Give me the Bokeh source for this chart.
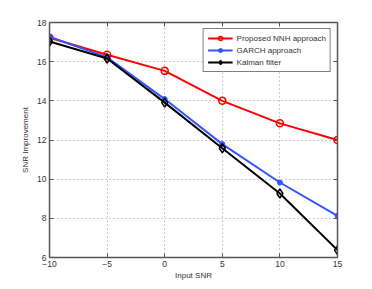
from bokeh.plotting import figure
from bokeh.models import LinearAxis, Range1d, FixedTicker, Legend, LegendItem
from bokeh.embed import file_html
from bokeh.resources import INLINE

snr = [-10, -5, 0, 5, 10, 15]
nnh = [17.22, 16.35, 15.53, 14.0, 12.85, 12.0]
garch = [17.27, 16.22, 14.09, 11.79, 9.83, 8.13]
kalman = [17.03, 16.16, 13.91, 11.58, 9.27, 6.38]
xticks = [-10, -5, 0, 5, 10, 15]
yticks = [6, 8, 10, 12, 14, 16, 18]

FONT = "Liberation Sans"
AX = "#555555"
TXT = "#333333"

p = figure(frame_width=288, frame_height=235, output_backend="svg", toolbar_location=None,
           x_range=Range1d(-10, 15), y_range=Range1d(6, 18),
           min_border_left=49, min_border_top=22, min_border_right=10, min_border_bottom=10,
           x_axis_label="Input SNR", y_axis_label="SNR Improvement")
p.outline_line_color = None
p.background_fill_color = "white"

def style_axis(ax, ticks, show_labels=True):
    ax.ticker = FixedTicker(ticks=ticks)
    ax.axis_line_color = AX
    ax.axis_line_width = 1.5
    ax.major_tick_line_color = AX
    ax.major_tick_in = 4
    ax.major_tick_out = 0
    ax.minor_tick_line_color = None
    ax.major_label_text_font = FONT
    ax.major_label_text_font_size = "8.5px"
    ax.major_label_text_color = TXT if show_labels else None
    ax.major_label_standoff = 3
    ax.axis_label_text_font = FONT
    ax.axis_label_text_font_size = "8px"
    ax.axis_label_text_font_style = "normal"
    ax.axis_label_text_color = TXT
    ax.axis_label_standoff = 4

style_axis(p.xaxis[0], xticks)
style_axis(p.yaxis[0], yticks)
p.xaxis[0].axis_label_standoff = 1

top = LinearAxis()
style_axis(top, xticks, show_labels=False)
top.major_label_text_font_size = "0px"
top.major_label_standoff = 0
p.add_layout(top, "above")
right = LinearAxis()
style_axis(right, yticks, show_labels=False)
right.major_label_text_font_size = "0px"
right.major_label_standoff = 0
p.add_layout(right, "right")

p.xgrid.ticker = FixedTicker(ticks=xticks)
p.ygrid.ticker = FixedTicker(ticks=yticks)
for g in (p.xgrid, p.ygrid):
    g.grid_line_color = "#999999"
    g.grid_line_dash = "1 3"
    g.grid_line_width = 1

RED = "#ff0000"
BLUE = "#3355ff"
BLACK = "#000000"

l1 = p.line(snr, nnh, line_color=RED, line_width=2)
m1 = p.scatter(snr, nnh, marker="circle", size=7, line_color=RED, fill_color=None, line_width=1.5)
l2 = p.line(snr, garch, line_color=BLUE, line_width=2)
m2 = p.scatter(snr, garch, marker="circle", size=5, line_color=BLUE, fill_color=BLUE)
l3 = p.line(snr, kalman, line_color=BLACK, line_width=2)
m3 = p.scatter(snr, kalman, marker="diamond", size=9, line_color=BLACK, fill_color=None, line_width=1.5)

legend = Legend(items=[
    LegendItem(label="Proposed NNH approach", renderers=[l1, m1]),
    LegendItem(label="GARCH approach", renderers=[l2, m2]),
    LegendItem(label="Kalman filter", renderers=[l3, m3]),
], location="top_right")
legend.label_text_font = FONT
legend.label_text_font_size = "8px"
legend.label_text_color = TXT
legend.border_line_color = BLACK
legend.border_line_width = 1
legend.background_fill_color = "white"
legend.background_fill_alpha = 1
legend.glyph_width = 25
legend.glyph_height = 10
legend.label_height = 10
legend.spacing = 2
legend.padding = 4
legend.margin = 6
legend.label_standoff = 4
p.add_layout(legend, "center")

open("out.html", "w").write(file_html(p, INLINE))
